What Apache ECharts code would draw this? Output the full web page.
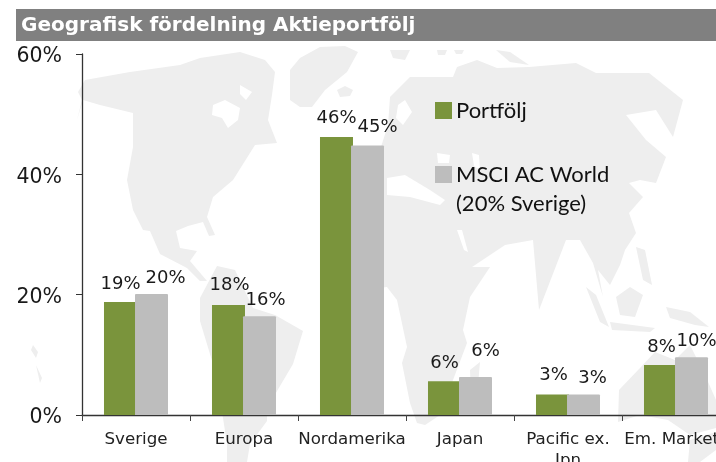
<!DOCTYPE html>
<html><head><meta charset="utf-8">
<style>html,body{margin:0;padding:0;background:#fff}#c{width:716px;height:462px}</style>
<script src="https://cdn.jsdelivr.net/npm/echarts@6/dist/echarts.min.js"></script>
</head><body><div id="c"></div>
<script>
const categories = ['Sverige','Europa','Nordamerika','Japan','Pacific ex.\nJpn','Em. Markets'];
const portfolj = [18.8,18.3,46.2,5.6,3.4,8.3];
const msci = [20.1,16.4,44.8,6.3,3.4,9.6];
const yTicks = [0,20,40,60];
const titleText = 'Geografisk fördelning Aktieportfölj';
const nameP = 'Portfölj';
const nameM = 'MSCI AC World\n(20% Sverige)';

// hand-moved data labels of the original [dx, dy]
const nudgeP = [[0,-4],[1,-6],[0,-5],[0,-4],[1,-5],[1,-4]];
const nudgeM = [[14,-2],[6,-2],[10,-4],[10,-12],[9,-2],[5,-2]];

// pale world map backdrop (decoration, pixel outline)
const land = [
 [[78,92],[85,80],[130,72],[180,65],[200,58],[240,52],[265,60],[275,72],[272,95],[268,120],[277,143],[255,145],[233,180],[213,197],[207,217],[215,235],[209,236],[203,222],[188,226],[176,231],[180,248],[197,251],[190,261],[207,281],[200,281],[187,268],[160,254],[150,231],[143,230],[133,210],[127,180],[133,147],[133,113],[100,105],[83,100],[77,120],[82,100]],
 [[290,70],[290,100],[300,107],[312,107],[325,90],[347,72],[358,52],[345,46],[320,47],[300,58]],
 [[337,90],[345,86],[353,90],[350,96],[340,97]],
 [[217,266],[235,270],[253,308],[275,315],[303,331],[293,364],[267,408],[267,421],[250,444],[247,462],[227,462],[227,444],[223,418],[213,364],[200,321],[200,298]],
 [[340,195],[380,150],[388,125],[390,97],[410,77],[453,77],[457,67],[477,60],[497,68],[529,67],[576,63],[596,73],[649,73],[683,100],[673,137],[656,110],[626,115],[646,140],[666,157],[656,183],[640,180],[629,183],[643,197],[629,213],[636,233],[625,250],[620,265],[610,285],[598,270],[603,297],[593,263],[580,240],[566,240],[539,310],[533,240],[505,245],[472,267],[490,267],[470,297],[463,330],[467,343],[453,380],[440,415],[425,425],[417,423],[410,403],[402,363],[407,347],[397,300],[387,287],[360,290],[340,260],[340,220]],
 [[390,50],[410,50],[405,60],[393,58]],[[437,50],[447,50],[445,55],[438,55]],[[454,50],[464,50],[462,54],[456,54]],
 [[496,50],[510,52],[529,65],[510,62]],
 [[586,287],[596,295],[609,327],[600,322]],
 [[616,297],[630,287],[643,295],[635,317],[620,315]],
 [[610,322],[655,328],[650,332],[612,330]],
 [[666,307],[690,312],[709,327],[695,325],[670,318]],
 [[636,247],[645,250],[652,285],[643,280]],
 [[619,390],[640,368],[655,352],[675,360],[690,345],[705,375],[716,400],[716,428],[690,435],[668,420],[640,415],[618,422]],
 [[690,440],[716,432],[716,450],[700,462],[688,462]],
 [[470,370],[480,362],[478,385],[471,395]],
 [[33,345],[38,352],[36,358],[31,350]],[[36,365],[42,378],[40,383]]
];
const water = [
 [[213,105],[225,100],[240,108],[238,120],[228,128],[222,118],[212,115]],
 [[240,85],[252,92],[246,100],[240,94]],
 [[387,178],[405,175],[430,190],[445,200],[440,205],[410,197],[387,195]],
 [[437,153],[450,155],[449,163],[438,163]],
 [[472,153],[479,155],[480,170],[474,166]],
 [[457,230],[462,230],[468,252],[464,250]],
 [[398,105],[405,100],[412,112],[403,125],[396,118]]
];

const labelOf = () => ({
  show:true, position:'top', distance:5, color:'#1a1a1a',
  fontFamily:'"DejaVu Sans"', fontSize:18,
  formatter:(p)=>Math.round(p.value)+'%'
});
const withNudges = (vals,nudges)=>vals.map((v,i)=>({value:v,label:{offset:nudges[i]}}));

const backdrop = [
  ...land.map(pts=>({type:'polygon',silent:true,z:-2,shape:{points:pts},style:{fill:'#eeeeee'}})),
  ...water.map(pts=>({type:'polygon',silent:true,z:-1,shape:{points:pts},style:{fill:'#ffffff'}})),
  {type:'rect',silent:true,z:-1,shape:{x:16,y:9,width:700,height:32},style:{fill:'#808080'}}
];

const chart = echarts.init(document.getElementById('c'),null,{renderer:'canvas'});
chart.setOption({
  animation:false,
  backgroundColor:'#ffffff',
  graphic:backdrop,
  title:{text:titleText,left:21,top:16,padding:0,textStyle:{color:'#ffffff',fontFamily:'"DejaVu Sans"',fontWeight:'bold',fontSize:20}},
  legend:{
    orient:'vertical',left:430,top:91,itemWidth:17,itemHeight:17,itemGap:6,
    icon:'rect',selectedMode:false,data:[nameP,nameM],
    formatter:(n)=>n===nameM?'\n'+n:n,
    textStyle:{color:'#111',fontFamily:'Lato',fontSize:22,lineHeight:29,padding:[0,0,0,-1]}
  },
  grid:{left:82,top:54,width:648,height:361,containLabel:false,outerBoundsMode:'none'},
  xAxis:{
    type:'category',data:categories,
    axisLine:{lineStyle:{color:'#333',width:1.3}},
    axisTick:{show:true,length:6,lineStyle:{color:'#444'}},
    axisLabel:{interval:0,color:'#222',fontFamily:'"DejaVu Sans"',fontSize:16.7,margin:14,lineHeight:21,hideOverlap:false},
    splitLine:{show:false}
  },
  yAxis:{
    type:'value',min:yTicks[0],max:yTicks[yTicks.length-1],interval:20,
    axisLine:{show:true,lineStyle:{color:'#333',width:1.3}},
    axisTick:{show:true,length:6,lineStyle:{color:'#333'}},
    axisLabel:{color:'#1a1a1a',fontFamily:'"DejaVu Sans"',fontSize:20.5,margin:20,verticalAlign:'top',lineHeight:6,formatter:'{value}%'},
    splitLine:{show:false}
  },
  series:[
    {name:nameP,type:'bar',barWidth:33,barGap:'-6%',itemStyle:{color:'#7a943c'},label:labelOf(),data:withNudges(portfolj,nudgeP),z:2},
    {name:nameM,type:'bar',barWidth:33,itemStyle:{color:'#bdbdbd',borderRadius:[1,1,0,0]},label:labelOf(),data:withNudges(msci,nudgeM),z:3}
  ]
});
</script></body></html>
